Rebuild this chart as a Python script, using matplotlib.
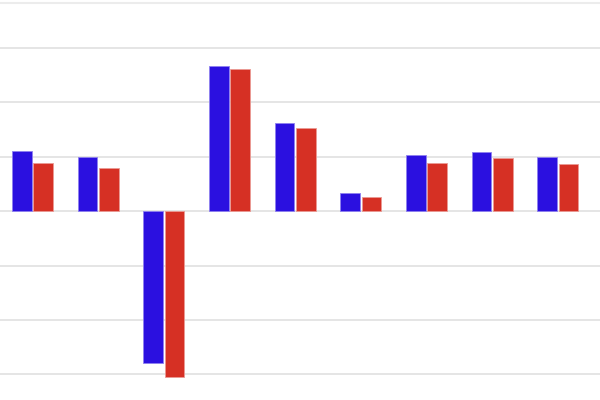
import matplotlib
matplotlib.use("Agg")
import matplotlib.pyplot as plt
import numpy as np

categories = ["A", "B", "C", "D", "E", "F", "G", "H", "I"]
series_blue = [1.10, 1.00, -2.79, 2.67, 1.61, 0.33, 1.03, 1.08, 0.99]
series_red = [0.89, 0.79, -3.05, 2.61, 1.52, 0.25, 0.89, 0.97, 0.86]
grid_ticks = [-3, -2, -1, 0, 1, 2, 3]

fig = plt.figure(figsize=(6, 4), dpi=100)
ax = fig.add_axes([0, 0, 1, 397 / 400])

x = np.arange(len(categories))
w = 0.30
ax.bar(x - 0.162, series_blue, width=w, color="#2b10e0",
       edgecolor="#8f80f0", linewidth=0.6, zorder=3)
ax.bar(x + 0.162, series_red, width=w, color="#d63024",
       edgecolor="#eb9a94", linewidth=0.6, zorder=3)

ax.set_xlim(-0.492, 8.641)
ax.set_ylim(-3.468, 3.817)
ax.set_yticks(grid_ticks)
ax.yaxis.grid(True, color="#e0e0e0", linewidth=1.2, zorder=0)
ax.set_axisbelow(True)
ax.tick_params(left=False, bottom=False, labelleft=False, labelbottom=False)
for s in ["left", "right", "bottom"]:
    ax.spines[s].set_visible(False)
ax.spines["top"].set_color("#ececec")
ax.spines["top"].set_linewidth(1.5)

fig.savefig("out.png", dpi=100)
